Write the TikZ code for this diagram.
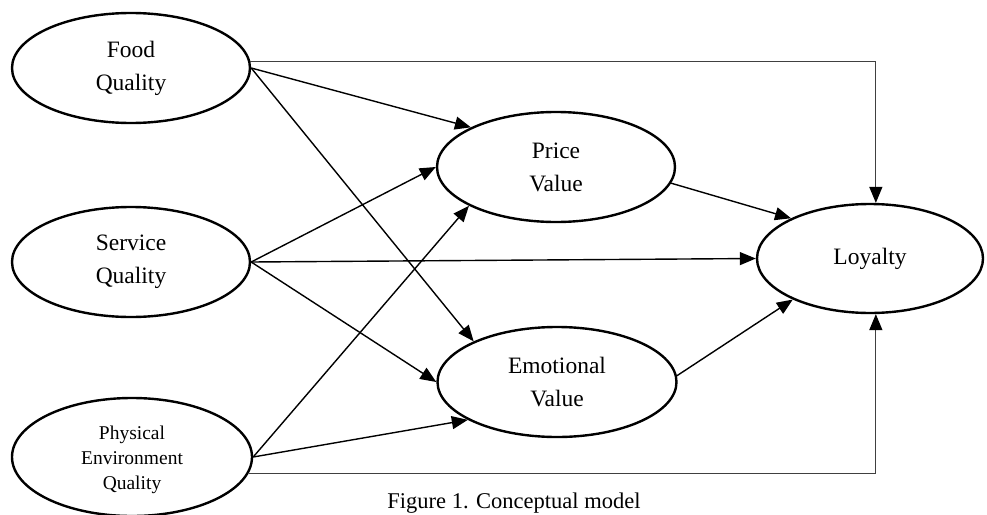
\documentclass[tikz,border=0pt]{standalone}
\usepackage{fontspec}
\setmainfont{Liberation Serif}
\usetikzlibrary{shapes.geometric, arrows.meta}

\begin{document}
\begin{tikzpicture}[x=1pt, y=-1pt, >={Triangle[length=16pt, width=13pt, color=black]},
	construct/.style={ellipse, draw, line width=2.4pt, minimum width=238pt, minimum height=110pt, align=center, font=\fontsize{23.5}{33}\selectfont},
	link/.style={->, line width=1.4pt},
	direct/.style={->, line width=1.2pt, draw=black!75}]
	
	\useasboundingbox (0,0) rectangle (987,514);
	
	% Antecedents
	\node[construct] (food) at (131,68) {Food\\Quality};
	\node[construct] (service) at (131,262) {Service\\Quality};
	\node[construct, minimum width=240pt, minimum height=118pt, font=\fontsize{19.5}{25}\selectfont] (physical) at (132,457) {\\[-6pt]Physical\\Environment\\Quality};
	
	% Mediators
	\node[construct] (price) at (556,167) {Price\\Value};
	\node[construct, minimum width=239pt] (emotional) at (557,382) {Emotional\\Value};
	
	% Outcome
	\node[construct, minimum width=226pt, minimum height=109pt] (loyalty) at (870,258.5) {Loyalty};
	
	% Paths to mediators
	\foreach \s/\t in {food.east/price.155, food.east/emotional.154,
		service.east/price.west, service.east/emotional.west,
		physical.east/price.204, physical.east/emotional.203}
	\draw[link] (\s) -- (\t);
	
	% Paths to loyalty
	\foreach \s/\t in {service.east/loyalty.west, price.-8/loyalty.153, emotional.3/loyalty.208}
	\draw[link] (\s) -- (\t);
	
	\draw[direct] (food.3) -| (loyalty.84);
	\draw[direct] (physical.-8) -| (loyalty.-84);
	
	% Caption
	\node[anchor=base, font=\fontsize{22.5}{27}\selectfont] (caption) at (514,508) {Figure 1. Conceptual model};
	
\end{tikzpicture}
\end{document}
